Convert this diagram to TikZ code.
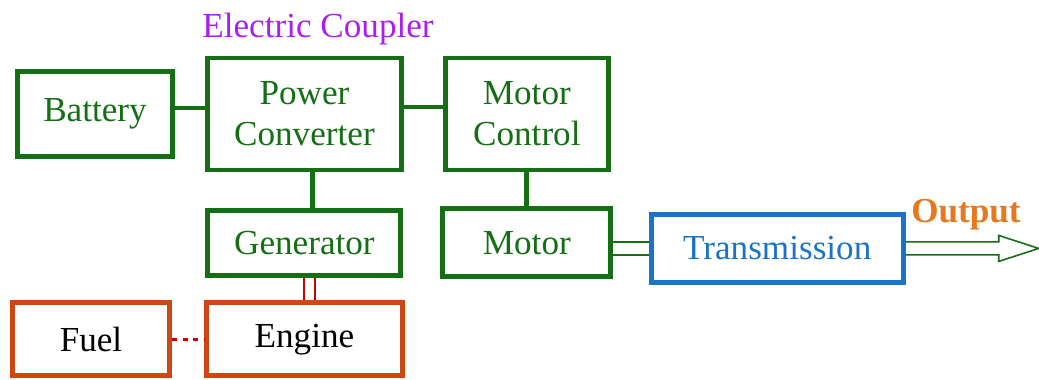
\documentclass[tikz,border=0pt]{standalone}
\usepackage{fontspec}
\setmainfont{Liberation Serif}
\usepackage{tikz}
\usetikzlibrary{positioning}
\definecolor{hgreen}{RGB}{20,110,20}
\definecolor{hred}{RGB}{205,70,20}
\definecolor{hdot}{RGB}{200,0,0}
\definecolor{hblue}{RGB}{25,115,200}
\definecolor{hpurple}{RGB}{170,30,240}
\definecolor{horange}{RGB}{230,120,30}
\tikzset{
    blockbox/.style={
        draw=hgreen, line width=2.8pt, text=hgreen,
        font=\fontsize{20}{23.3}\selectfont, align=center,
        inner sep=2pt
    },
    enginebox/.style={
        blockbox, draw=hred, text=black
    },
    transbox/.style={
        blockbox, draw=hblue, text=hblue
    },
    link/.style={draw=hgreen, line width=2.8pt},
    shaft/.style={draw=hgreen, line width=0.9pt, double=white, double distance=0.23cm},
    mshaft/.style={draw=hdot, line width=1.2pt, double=white, double distance=0.18cm},
    fuelline/.style={draw=hdot, line width=2pt, dash pattern=on 3pt off 3pt}
}

\begin{document}
\begin{tikzpicture}
\useasboundingbox (0,0) rectangle (20.78,-7.60);
\clip (0,0) rectangle (20.78,-7.60);
% 节点
\node[blockbox, minimum width=3.1cm, minimum height=1.7cm] (Bat) at (1.90,-2.28) {Battery};
\node[blockbox, minimum width=3.88cm, minimum height=2.24cm] (PC) [right=0.6cm of Bat] {Power\\Converter};
\node[blockbox, minimum width=3.26cm, minimum height=2.24cm] (MC) [right=0.78cm of PC] {Motor\\Control};
\node[blockbox, minimum width=3.86cm, minimum height=1.30cm] (Gen) [below=0.72cm of PC] {Generator};
\node[blockbox, minimum width=3.36cm, minimum height=1.36cm] (Mot) [below=0.68cm of MC] {Motor};
\node[transbox, minimum width=5.04cm, minimum height=1.36cm] (Trans) [right=0.71cm of Mot, yshift=-0.11cm] {Transmission};
\node[enginebox, minimum width=3.92cm, minimum height=1.46cm] (Eng) [below=0.44cm of Gen] {Engine};
\node[enginebox, minimum width=3.14cm, minimum height=1.46cm] (Fuel) [left=0.64cm of Eng] {Fuel};

% 标注
\node[font=\fontsize{20}{24}\selectfont, text=hpurple] (EC) at (6.36,-0.58) {Electric Coupler};
\node[font=\fontsize{20}{24}\selectfont\bfseries, text=horange] (Out) at (19.32,-4.29) {Output};

% 连线
\draw[link] ([yshift=0.12cm]Bat.east) -- ([yshift=0.12cm]Bat.east -| PC.west);
\draw[link] ([yshift=0.14cm]PC.east) -- ([yshift=0.14cm]PC.east -| MC.west);
\draw[link] ([xshift=0.16cm]PC.south) -- ([xshift=0.16cm]PC.south |- Gen.north);
\draw[link] (MC.south) -- (MC.south |- Mot.north);
\draw[shaft] (Trans.west -| Mot.east) -- (Trans.west);
\draw[mshaft] ([xshift=0.10cm]Gen.south) -- ([xshift=0.10cm]Eng.north);
\draw[fuelline] (Fuel.east) -- (Eng.west);

% 输出箭头
\coordinate (head) at ([xshift=1.86cm]Trans.east);
\coordinate (tip) at ([xshift=2.66cm]Trans.east);
\draw[draw=hgreen, line width=0.9pt, line join=miter]
    ([yshift=0.13cm]Trans.east) -- ([yshift=0.13cm]head) -- ([yshift=0.26cm]head)
    -- (tip) -- ([yshift=-0.26cm]head) -- ([yshift=-0.13cm]head) -- ([yshift=-0.13cm]Trans.east);
\end{tikzpicture}
\end{document}
